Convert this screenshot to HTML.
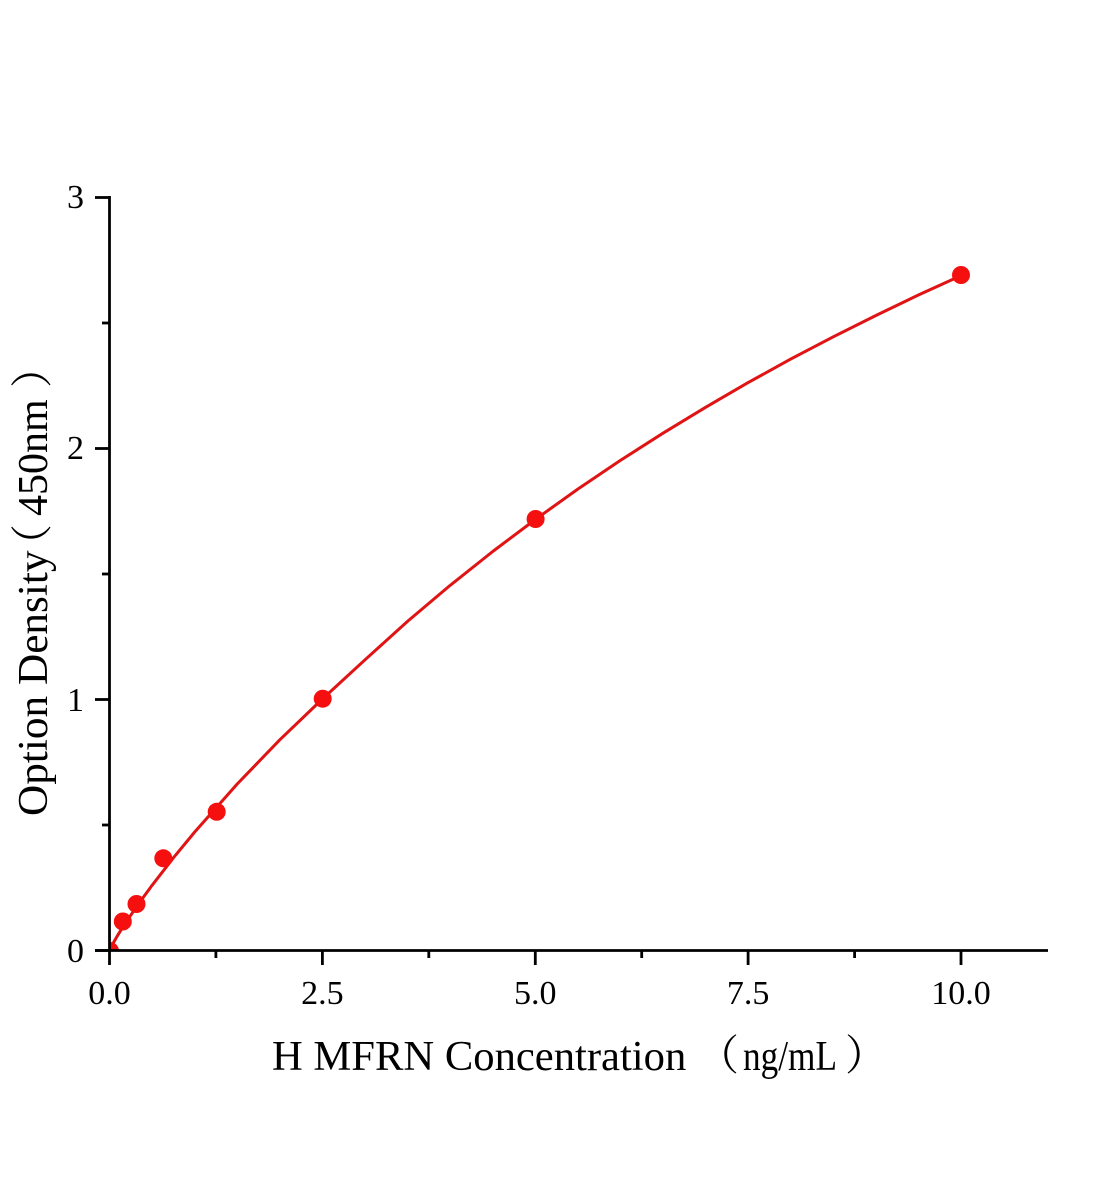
<!DOCTYPE html>
<html>
<head>
<meta charset="utf-8">
<style>
html,body{margin:0;padding:0;background:#fff;}
svg{display:block;}
text{font-family:"Liberation Serif","Noto Serif CJK SC",serif;fill:#000;}
</style>
</head>
<body>
<svg width="1104" height="1200" viewBox="0 0 1104 1200" xmlns="http://www.w3.org/2000/svg">
<defs>
<clipPath id="plot"><rect x="110.5" y="180" width="940" height="769.5"/></clipPath>
</defs>
<rect x="0" y="0" width="1104" height="1200" fill="#fff"/>
<g clip-path="url(#plot)">
<polyline fill="none" stroke="#e01414" stroke-width="3" stroke-linejoin="round" points="109.5,950.5 111.2,946.8 113.8,942.1 118.0,934.8 126.5,921.4 139.3,902.8 152.1,885.3 173.4,857.8 194.7,832.0 237.2,784.0 279.8,739.8 322.4,699.0 365.0,659.8 407.5,621.4 450.1,585.4 492.7,551.5 535.3,519.5 577.8,489.1 620.4,460.4 663.0,433.2 705.6,407.3 748.1,382.6 790.7,359.1 833.3,336.8 875.9,315.5 918.4,295.0 961.0,275.6"/>
<g fill="#f50f0f">
<circle cx="110" cy="951" r="9"/>
<circle cx="122.8" cy="921.5" r="9"/>
<circle cx="136.5" cy="904" r="9"/>
<circle cx="163.3" cy="858.3" r="9"/>
<circle cx="216.7" cy="811.8" r="9"/>
<circle cx="322.7" cy="698.7" r="9"/>
<circle cx="535.6" cy="519" r="9"/>
<circle cx="961" cy="275" r="9"/>
</g>
</g>
<g stroke="#000" stroke-width="2.8" fill="none">
<line x1="95" y1="950.5" x2="1048" y2="950.5"/>
<line x1="109.5" y1="196" x2="109.5" y2="952"/>
<line x1="109.5" y1="950" x2="109.5" y2="965"/>
<line x1="322.4" y1="950" x2="322.4" y2="965"/>
<line x1="535.3" y1="950" x2="535.3" y2="965"/>
<line x1="748.1" y1="950" x2="748.1" y2="965"/>
<line x1="961" y1="950" x2="961" y2="965"/>
<line x1="215.9" y1="950" x2="215.9" y2="958"/>
<line x1="428.8" y1="950" x2="428.8" y2="958"/>
<line x1="641.7" y1="950" x2="641.7" y2="958"/>
<line x1="854.6" y1="950" x2="854.6" y2="958"/>
<line x1="95" y1="950.5" x2="110" y2="950.5"/>
<line x1="95" y1="699.5" x2="110" y2="699.5"/>
<line x1="95" y1="448.5" x2="110" y2="448.5"/>
<line x1="95" y1="197.5" x2="110" y2="197.5"/>
<line x1="102" y1="825" x2="110" y2="825"/>
<line x1="102" y1="574" x2="110" y2="574"/>
<line x1="102" y1="323" x2="110" y2="323"/>
</g>
<g font-size="34" text-anchor="middle">
<text x="109.5" y="1004">0.0</text>
<text x="322.4" y="1004">2.5</text>
<text x="535.3" y="1004">5.0</text>
<text x="748.1" y="1004">7.5</text>
<text x="961" y="1004">10.0</text>
</g>
<g font-size="34" text-anchor="end">
<text x="84" y="962">0</text>
<text x="84" y="711">1</text>
<text x="84" y="459">2</text>
<text x="84" y="208">3</text>
</g>
<!-- X axis title -->
<g font-size="42">
<text transform="translate(272,1070) scale(1.015,1)">H MFRN Concentration</text>
<text x="697" y="1070">（</text>
<text transform="translate(743,1070) scale(0.84,1)">ng/mL</text>
<text x="845" y="1070">）</text>
</g>
<!-- Y axis title -->
<g font-size="42" transform="translate(47,816) rotate(-90)">
<text transform="scale(1.03,1)">Option Density</text>
<text x="250" y="0">（</text>
<text x="300" y="0">450nm</text>
<text x="428" y="0">）</text>
</g>
</svg>
</body>
</html>
